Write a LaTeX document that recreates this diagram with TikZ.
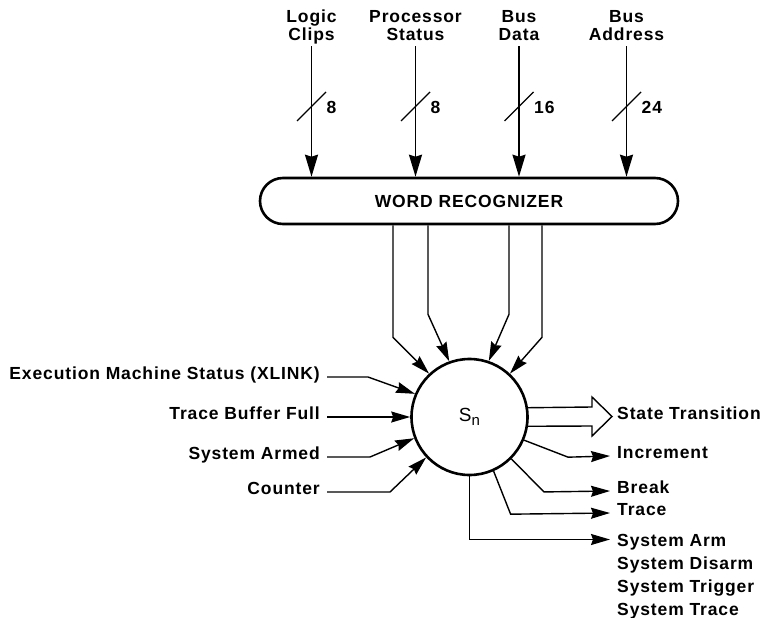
\documentclass[tikz,border=0pt]{standalone}
\usepackage{fontspec}
\setmainfont{Liberation Sans}[LetterSpace=5]
\usetikzlibrary{arrows.meta,calc,shapes.misc}

\begin{document}
\begin{tikzpicture}[x=1pt,y=-1pt,
  every node/.style={font=\fontsize{17.5}{18.5}\selectfont\bfseries,inner sep=0pt},
  inlbl/.style={align=center,anchor=south},
  width/.style={anchor=mid west},
  sig/.style={anchor=mid west},
  recog/.style={rounded rectangle,draw,line width=2.6pt,
               minimum width=418pt,minimum height=46pt},
  state/.style={circle,draw,line width=2.6pt,minimum size=116pt},
  bus/.style ={line width=1.9pt,-{Stealth[length=22pt,width=13pt,inset=2pt]}},
  arr/.style ={line width=1.4pt,-{Stealth[length=19pt,width=11pt,inset=2pt]}},
  slash/.style={line width=1.4pt},
  hollow/.style={line width=1.4pt,line join=miter},
]
\useasboundingbox (0,0) rectangle (763,618);

\node[recog] (wr) at (469,201) {WORD RECOGNIZER};
\node[state] (sn) at (469.5,417)
  {\mdseries\fontsize{19}{19}\selectfont S\raisebox{-4pt}{\fontsize{15}{15}\selectfont n}};

\node[inlbl] (lc) at (311.5,46.5) {Logic\\Clips\strut};
\node[inlbl] (ps) at (415.5,46.5) {Processor\\Status\strut};
\node[inlbl] (bd) at (519,46.5) {Bus\\Data\strut};
\node[inlbl] (ba) at (626.5,46.5) {Bus\\Address\strut};

\node[width] (lcw) at ($(lc.south)+(15,64)$) {8};
\node[width] (psw) at ($(ps.south)+(15,64)$) {8};
\node[width] (bdw) at ($(bd.south)+(15,64)$) {16};
\node[width] (baw) at ($(ba.south)+(15,64)$) {24};

\draw[bus] (lc.south) -- (lc.south |- wr.north);
\draw[bus] (ps.south) -- (ps.south |- wr.north);
\draw[bus] (bd.south) -- (bd.south |- wr.north);
\draw[bus] (ba.south) -- (ba.south |- wr.north);

\draw[slash] ($(lc.south)+(-14.5,74.5)$) -- ++(29,-29);
\draw[slash] ($(ps.south)+(-14.5,74.5)$) -- ++(29,-29);
\draw[slash] ($(bd.south)+(-14.5,74.5)$) -- ++(29,-29);
\draw[slash] ($(ba.south)+(-14.5,74.5)$) -- ++(29,-29);

\draw[arr] ($(wr.south)+(-76,0)$) -- ++(0,112) -- (sn.133.5);
\draw[arr] ($(wr.south)+(-41,0)$) -- ++(0,89) -- (sn.110.6);
\draw[arr] ($(wr.south)+(40,0)$) -- ++(0,89) -- (sn.71);
\draw[arr] ($(wr.south)+(73,0)$) -- ++(0,112) -- (sn.47);

\node[anchor=mid east] (xl) at (320,377) {Execution Machine Status (XLINK)};
\node[anchor=mid east] (tbf) at (320,417) {Trace Buffer Full};
\node[anchor=mid east] (sa) at (320,457) {System Armed};
\node[anchor=mid east] (cnt) at (320,492) {Counter};

\draw[arr] (xl.mid east) ++(7,0) -- ++(41,0) -- (sn.157);
\draw[arr] (tbf.mid east) ++(7,0) -- (sn.west);
\draw[arr] (sa.mid east) ++(7,0) -- ++(43,0) -- (sn.201);
\draw[arr] (cnt.mid east) ++(7,0) -- ++(63,0) -- (sn.223);

\node[sig] (st) at (617,416.5) {State Transition};
\node[sig] (inc) at (617,456) {Increment};
\node[sig] (brk) at (617,491) {Break};
\node[sig] (trc) at (617,513) {Trace};
\node[anchor=north west,align=left,font=\fontsize{17.5}{22.7}\selectfont\bfseries]
  (sys) at (617,534.5) {System Arm\\System Disarm\\System Trigger\\System Trace};

\draw[hollow] (sn.9.5) -- ($(st.mid west)+(-25,-9.5)$) -- ++(0,-10)
  -- ($(st.mid west)+(-5,0)$) -- ($(st.mid west)+(-25,19.5)$)
  -- ++(0,-10) -- (sn.-9.5);
\draw[arr] (sn.337.6) -- ++(44,17) -- ([xshift=-7pt]inc.mid west);
\draw[arr] (sn.315) -- ++(32.5,33) -- ([xshift=-7pt]brk.mid west);
\draw[arr] (sn.294) -- ++(17,43) -- ([xshift=-7pt]trc.mid west);
\draw[arr] (sn.south) |- ($(sys.north west)+(-7,5)$);
\end{tikzpicture}
\end{document}
